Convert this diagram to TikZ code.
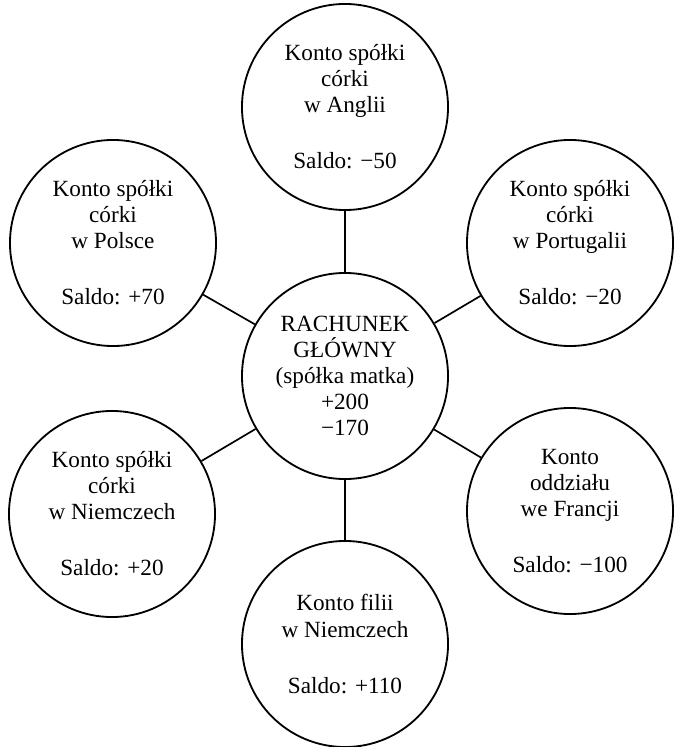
\documentclass[tikz,border=0pt]{standalone}
\usepackage{fontspec}
\setmainfont{Liberation Serif}
\begin{document}
\begin{tikzpicture}[x=0.025cm, y=-0.025cm,
  konto/.style={circle, draw, line width=1.3pt, minimum size=5.15cm, inner sep=0pt,
    align=center, font=\fontsize{16.5}{18.5}\selectfont},
  link/.style={line width=1.2pt}]
\useasboundingbox (0,0) rectangle (673,747);
\node[konto] (main) at (345,376) {RACHUNEK\\GŁÓWNY\\(spółka matka)\\+200\\−170};
\node[konto] (anglia) at (345,107) {Konto spółki\\córki\\w Anglii\\[7.5mm]Saldo: −50};
\node[konto] (polska) at (113,243) {Konto spółki\\córki\\w Polsce\\[7.5mm]Saldo: +70};
\node[konto] (portugalia) at (570,243) {Konto spółki\\córki\\w Portugalii\\[7.5mm]Saldo: −20};
\node[konto] (niemcy) at (112,514) {Konto spółki\\córki\\w Niemczech\\[7.5mm]Saldo: +20};
\node[konto] (francja) at (570,511) {Konto\\oddziału\\we Francji\\[7.5mm]Saldo: −100};
\node[konto] (filia) at (345,644) {Konto filii\\w Niemczech\\[7.5mm]Saldo: +110};
\draw[link] (main) -- (anglia);
\draw[link] (main) -- (polska);
\draw[link] (main) -- (portugalia);
\draw[link] (main) -- (niemcy);
\draw[link] (main) -- (francja);
\draw[link] (main) -- (filia);
\end{tikzpicture}
\end{document}
